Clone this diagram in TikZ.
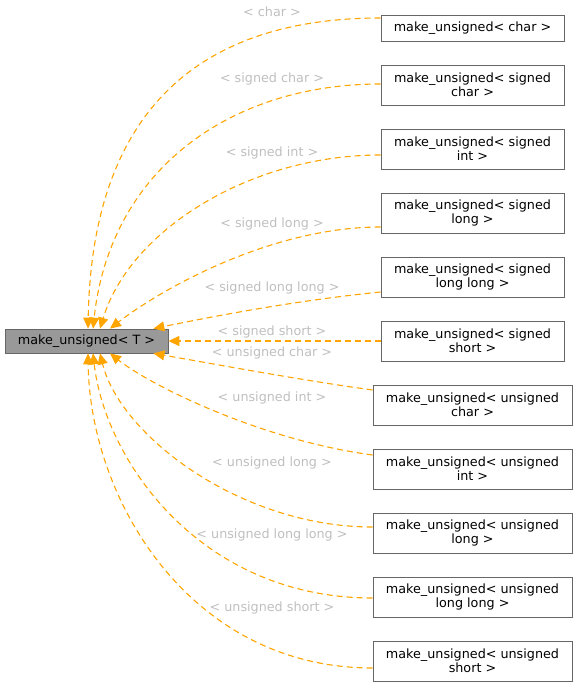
\documentclass[tikz,border=0pt]{standalone}
\usepackage{fontspec}
\setmainfont{DejaVu Sans}
\usetikzlibrary{arrows.meta}
\definecolor{edgeor}{HTML}{FFA500}
\definecolor{lblgray}{HTML}{BFBFBF}
\definecolor{bordergray}{HTML}{666666}
\definecolor{basefill}{HTML}{999999}
\begin{document}
\begin{tikzpicture}[x=1bp,y=-1bp,
  every node/.style={font=\fontsize{12.8}{14}\selectfont},
  cls/.style={draw=bordergray, fill=white, line width=0.8bp, inner sep=0pt, align=center},
  sbox/.style={cls, minimum width=183bp},
  ubox/.style={cls, minimum width=199bp},
  one/.style={minimum height=26bp},
  two/.style={minimum height=40bp},
  rel/.style={draw=edgeor, line width=1.1bp, dash pattern=on 6bp off 4bp, -{Triangle[length=11bp,width=10bp,fill=edgeor]}},
  lbl/.style={text=lblgray, inner sep=0pt}
]
\useasboundingbox (0,0) rectangle (577,687);

\node[cls, fill=basefill, minimum width=163bp, minimum height=24bp] (L) at (86.5,341) {make\_unsigned< T >};

\node[sbox, one] (r1) at (472.5,28) {make\_unsigned< char >};
\node[sbox, two] (r2) at (472.5,85) {make\_unsigned< signed\\char >};
\node[sbox, two] (r3) at (472.5,149) {make\_unsigned< signed\\int >};
\node[sbox, two] (r4) at (472.5,213) {make\_unsigned< signed\\long >};
\node[sbox, two] (r5) at (472.5,277) {make\_unsigned< signed\\long long >};
\node[sbox, two] (r6) at (472.5,341) {make\_unsigned< signed\\short >};
\node[ubox, two] (r7) at (472.5,405) {make\_unsigned< unsigned\\char >};
\node[ubox, two] (r8) at (472.5,469) {make\_unsigned< unsigned\\int >};
\node[ubox, two] (r9) at (472.5,533) {make\_unsigned< unsigned\\long >};
\node[ubox, two] (r10) at (472.5,597) {make\_unsigned< unsigned\\long long >};
\node[ubox, two] (r11) at (472.5,661) {make\_unsigned< unsigned\\short >};

\draw[rel] ([yshift=10bp]r1.west) .. controls (200,18) and (92,110) .. ([xshift=1.5bp]L.north);
\draw[rel] ([yshift=1bp]r2.west) .. controls (230,84) and (110,170) .. ([xshift=6.5bp]L.north);
\draw[rel] ([yshift=-6bp]r3.west) .. controls (250,155) and (130,230) .. ([xshift=13.5bp]L.north);
\draw[rel] ([yshift=-14bp]r4.west) .. controls (270,227) and (160,290) .. ([xshift=23.5bp]L.north);
\draw[rel] ([yshift=-15bp]r5.west) .. controls (300,300) and (220,315) .. ([xshift=-15bp]L.north east);
\draw[rel, line width=1.3bp] (r6.west) -- (L.east);
\draw[rel] ([yshift=15bp]r7.west) .. controls (300,380) and (220,365) .. ([xshift=-15bp]L.south east);
\draw[rel] ([yshift=14bp]r8.west) .. controls (260,440) and (150,385) .. ([xshift=23.5bp]L.south);
\draw[rel] ([yshift=6bp]r9.west) .. controls (240,527) and (120,435) .. ([xshift=13.5bp]L.south);
\draw[rel] ([yshift=-1bp]r10.west) .. controls (200,598) and (105,460) .. ([xshift=6.5bp]L.south);
\draw[rel] ([yshift=-7bp]r11.west) .. controls (190,668) and (90,500) .. ([xshift=1.5bp]L.south);

\node[lbl] (e1) at (272,12) {< char >};
\node[lbl] (e2) at (272,79) {< signed char >};
\node[lbl] (e3) at (272,153) {< signed int >};
\node[lbl] (e4) at (272,224) {< signed long >};
\node[lbl] (e5) at (272,288) {< signed long long >};
\node[lbl] (e6) at (272,332) {< signed short >};
\node[lbl] (e7) at (272,353) {< unsigned char >};
\node[lbl] (e8) at (272,398) {< unsigned int >};
\node[lbl] (e9) at (272,463) {< unsigned long >};
\node[lbl] (e10) at (272,535) {< unsigned long long >};
\node[lbl] (e11) at (272,608) {< unsigned short >};
\end{tikzpicture}
\end{document}
